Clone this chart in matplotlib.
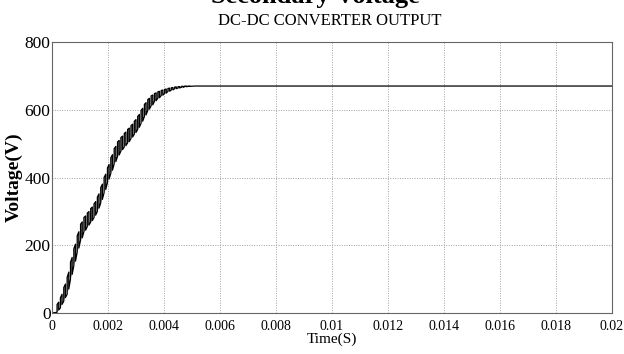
import matplotlib
matplotlib.use("Agg")
import matplotlib.pyplot as plt

# switching instants (s) and ripple band (V)
t_sw = [0.00018, 0.00030, 0.00042, 0.00054, 0.00066, 0.00078, 0.00090, 0.00102,
        0.00114, 0.00126, 0.00138, 0.00150, 0.00162, 0.00174, 0.00186, 0.00198,
        0.00210, 0.00222, 0.00234, 0.00246, 0.00258, 0.00270, 0.00282, 0.00294,
        0.00306, 0.00318, 0.00330, 0.00342, 0.00354, 0.00366, 0.00378, 0.00390,
        0.00402, 0.00414, 0.00426, 0.00438, 0.00450, 0.00462, 0.00474, 0.00486]
v_hi = [25, 45, 75, 105, 150, 190, 228, 262, 282, 295, 308, 322, 342, 370, 400, 428,
        458, 485, 505, 518, 530, 542, 553, 566, 580, 598, 616, 630, 641, 648, 653, 657,
        660, 663, 665, 667, 668, 669, 670, 670]
v_lo = [2, 15, 35, 55, 100, 140, 180, 215, 240, 255, 268, 282, 300, 325, 355, 385,
        412, 440, 462, 478, 490, 502, 515, 528, 542, 560, 580, 598, 612, 625, 634, 642,
        648, 654, 658, 662, 664, 666, 668, 669]
t_settle = 0.0051
v_final = 670
t_end = 0.02

xticks = [0, 0.002, 0.004, 0.006, 0.008, 0.01, 0.012, 0.014, 0.016, 0.018, 0.02]
xlabels = ['0', '0.002', '0.004', '0.006', '0.008', '0.01', '0.012', '0.014', '0.016', '0.018', '0.02']
yticks = [0, 200, 400, 600, 800]

serif = ['Liberation Serif', 'DejaVu Serif']

fig = plt.figure(figsize=(6.24, 3.54), dpi=100)
ax = fig.add_axes([52 / 624, 1 - 313 / 354, 560 / 624, 271 / 354])

w = 0.00006  # width of each ripple bar
tt = [0, t_sw[0]]
vv = [0, v_lo[0]]
for k in range(len(t_sw)):
    nxt = v_hi[k + 1] if k + 1 < len(t_sw) else v_final
    d = 0.35 * (nxt - v_hi[k])
    xs = [t_sw[k], t_sw[k], t_sw[k] + w, t_sw[k] + w]
    ys = [v_lo[k], v_hi[k], v_hi[k] + d, v_lo[k] + d]
    ax.fill(xs, ys, color='#8a8a8a', lw=0)
    tt += xs
    vv += ys
tt += [t_settle, t_end]
vv += [v_final, v_final]
ax.plot(tt, vv, color='black', lw=0.9)

ax.set_xlim(0, 0.02)
ax.set_ylim(0, 800)
ax.set_xticks(xticks)
ax.set_xticklabels(xlabels)
ax.set_yticks(yticks)
ax.grid(True, color='#a0a0a0', linestyle=(0, (1, 1.5)), lw=0.7)
ax.tick_params(length=0, pad=1)
ax.tick_params(axis='y', labelsize=12.5)
ax.tick_params(axis='x', labelsize=10, pad=5)
for lab in ax.get_xticklabels() + ax.get_yticklabels():
    lab.set_family(serif)
for s in ax.spines.values():
    s.set_color('#666666')
    s.set_linewidth(0.8)

ax.set_xlabel('Time(S)', family=serif, fontsize=11, labelpad=0)
ax.set_ylabel('Voltage(V)', family=serif, fontsize=14, fontweight='bold', labelpad=1)

fig.text(315 / 624, 1 - 3 / 354, 'Secondary Voltage', family=serif, fontsize=19,
         fontweight='bold', ha='center', va='baseline')
fig.text(330 / 624, 1 - 25 / 354, 'DC-DC CONVERTER OUTPUT', family=serif, fontsize=12,
         ha='center', va='baseline')

fig.savefig('out.png', dpi=100)
